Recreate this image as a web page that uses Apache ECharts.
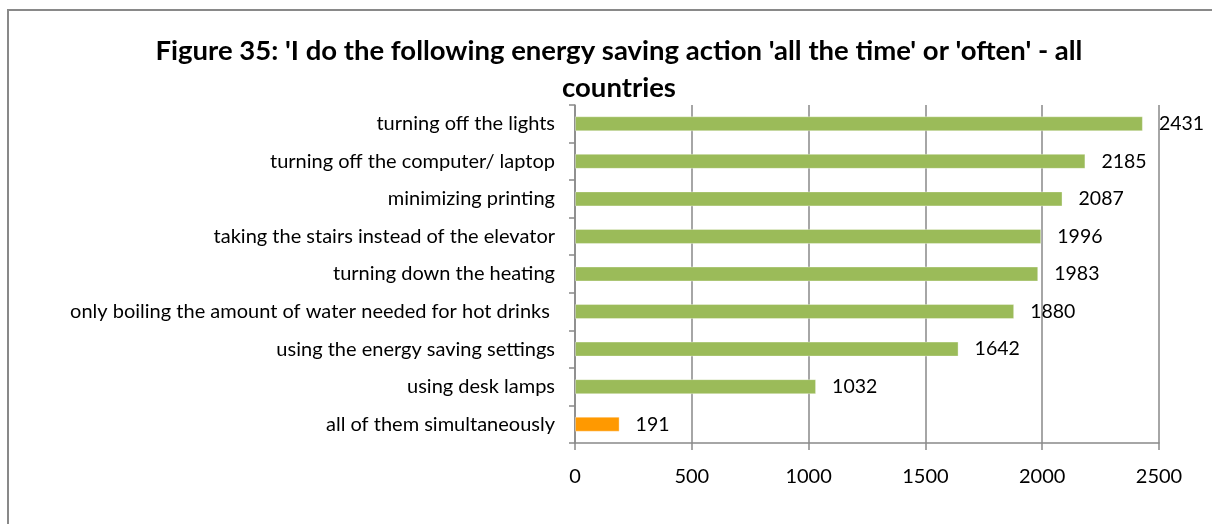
<!DOCTYPE html>
<html>
<head>
<meta charset="utf-8">
<style>
  html, body { margin: 0; padding: 0; background: #ffffff; }
  #chart { width: 1212px; height: 524px; }
</style>
<script src="https://cdn.jsdelivr.net/npm/echarts@6/dist/echarts.min.js"></script>
</head>
<body>
<div id="chart"></div>
<script>
// Energy saving actions reported as done 'all the time' or 'often'
const actions = [
  'turning off the lights',
  'turning off the computer/ laptop',
  'minimizing printing',
  'taking the stairs instead of the elevator',
  'turning down the heating',
  'only boiling the amount of water needed for hot drinks ',
  'using the energy saving settings',
  'using desk lamps',
  'all of them simultaneously'
];
const respondents = [2431, 2185, 2087, 1996, 1983, 1880, 1642, 1032, 191];
const xTicks = [0, 500, 1000, 1500, 2000, 2500];

const GREEN = '#9bbb59';
const ORANGE = '#ff9900';
const GREY = '#898989';
const FONT = 'Lato, "Open Sans", sans-serif';

const chart = echarts.init(document.getElementById('chart'), null, { renderer: 'canvas' });

chart.setOption({
  animation: false,
  backgroundColor: '#ffffff',
  title: {
    text: "Figure 35: 'I do the following energy saving action 'all the time' or 'often' - all\ncountries",
    left: 614,
    top: 28,
    textAlign: 'center',
    textStyle: {
      fontFamily: FONT,
      fontWeight: 'bold',
      fontSize: 27.5,
      lineHeight: 37,
      color: '#000000'
    }
  },
  graphic: [{
    type: 'rect',
    shape: { x: 8, y: 10, width: 1220, height: 530 },
    style: { fill: 'none', stroke: GREY, lineWidth: 2 },
    silent: true
  }],
  grid: { left: 575, right: 53, top: 105, bottom: 81, containLabel: false },
  xAxis: {
    type: 'value',
    min: xTicks[0],
    max: xTicks[xTicks.length - 1],
    interval: 500,
    axisLine: { show: true, lineStyle: { color: GREY, width: 1.5 } },
    axisTick: { show: true, length: 7, lineStyle: { color: GREY, width: 1.5 } },
    splitLine: { show: true, lineStyle: { color: GREY, width: 1.5 } },
    axisLabel: {
      margin: 24,
      fontFamily: FONT,
      fontSize: 20,
      color: '#000000',
      formatter: v => String(v)
    }
  },
  yAxis: {
    type: 'category',
    inverse: true,
    data: actions,
    axisLine: { show: true, lineStyle: { color: GREY, width: 1.5 } },
    axisTick: { show: true, length: 6, inside: false, lineStyle: { color: GREY, width: 1.5 } },
    splitLine: { show: false },
    axisLabel: {
      margin: 20,
      fontFamily: FONT,
      fontSize: 20,
      color: '#000000'
    }
  },
  series: [{
    type: 'bar',
    data: respondents.map((v, i) => ({
      value: v,
      itemStyle: { color: i === respondents.length - 1 ? ORANGE : GREEN }
    })),
    barWidth: '40%',
    itemStyle: { borderColor: 'rgba(255,255,255,0.35)', borderWidth: 1 },
    label: {
      show: true,
      position: 'right',
      distance: 16,
      fontFamily: FONT,
      fontSize: 19.5,
      color: '#000000'
    }
  }]
});
</script>
</body>
</html>
